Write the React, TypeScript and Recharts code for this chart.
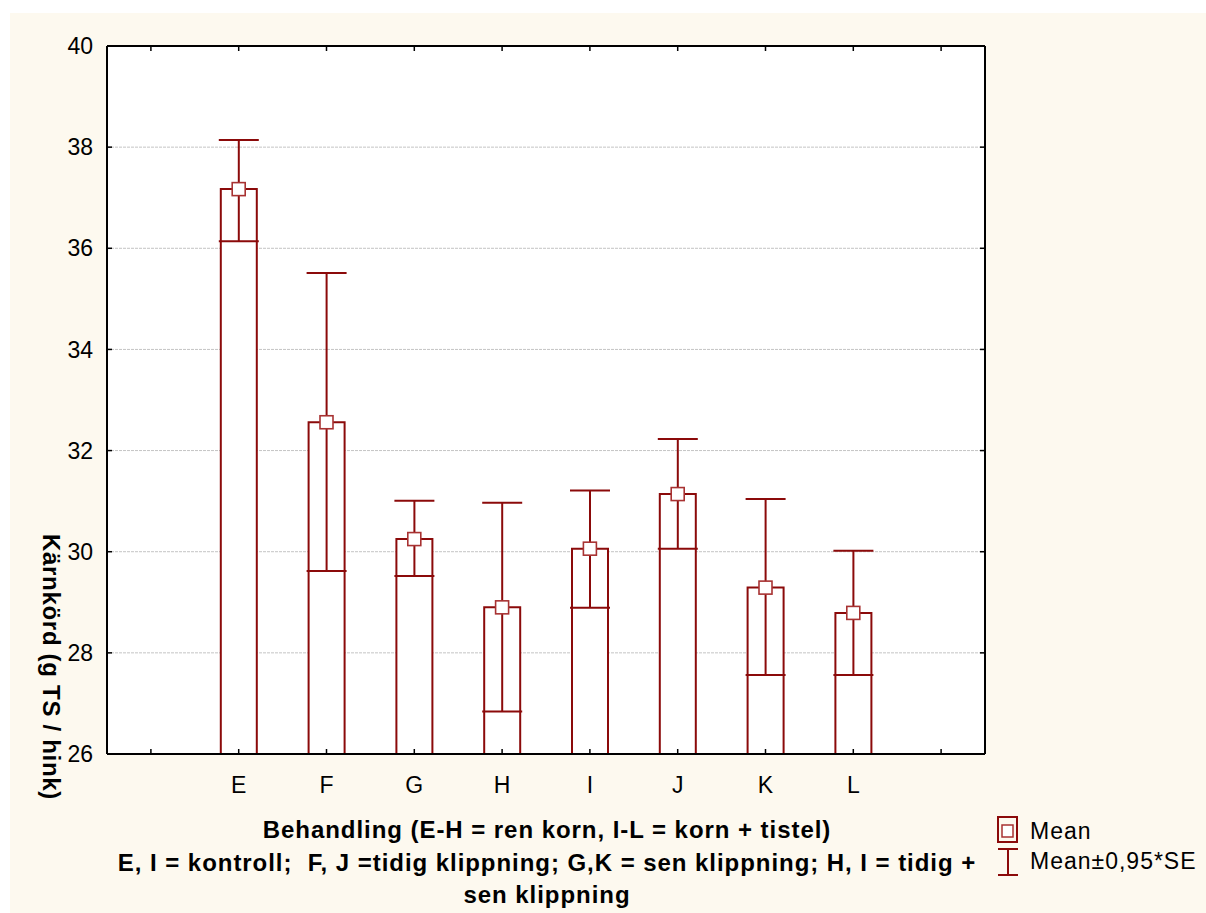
import React from 'react';
import { ComposedChart, Bar, Line, ErrorBar, XAxis, YAxis, CartesianGrid } from 'recharts';

const categories = ['', 'E', 'F', 'G', 'H', 'I', 'J', 'K', 'L', ''];
const means = [null, 37.17, 32.56, 30.25, 28.9, 30.06, 31.14, 29.29, 28.79, null];
const lowerCI = [null, 36.14, 29.62, 29.52, 26.84, 28.89, 30.06, 27.56, 27.56, null];
const upperCI = [null, 38.14, 35.51, 31.01, 30.97, 31.21, 32.23, 31.04, 30.02, null];
const yTicks = [26, 28, 30, 32, 34, 36, 38, 40];

const xTitleLines = [
  'Behandling (E-H = ren korn, I-L = korn + tistel)',
  'E, I = kontroll;  F, J =tidig klippning; G,K = sen klippning; H, I = tidig +',
  'sen klippning',
];
const yTitle = 'Kärnkörd (g TS / hink)';
const legendLabels = ['Mean', 'Mean±0,95*SE'];

const RED = '#8b0a0a';
const FONT = '"Liberation Sans", Arial, sans-serif';

const data = categories.map((cat, i) => {
  const m = means[i];
  const lo = lowerCI[i];
  const hi = upperCI[i];
  return {
    cat,
    mean: m,
    err: m == null || lo == null || hi == null ? [0, 0] : [m - lo, hi - m],
  };
});

const renderSquare = (props: any) => {
  const { cx, cy, index } = props;
  if (cx == null || cy == null || props.value == null) return <g key={`sq-${index}`} />;
  return (
    <rect
      key={`sq-${index}`}
      x={cx - 6.5}
      y={cy - 6.5}
      width={13}
      height={13}
      fill="#ffffff"
      stroke="#a83232"
      strokeWidth={1.6}
    />
  );
};

const emptyTick = () => <g />;

const catTick = (props: any) => {
  const { x, y, payload } = props;
  const v = payload && payload.value;
  if (!v) return <g />;
  return (
    <text x={x} y={y} dy="0.71em" textAnchor="middle" fontSize={23} fill="#000" fontFamily={FONT}>
      {v}
    </text>
  );
};

export default function App() {
  return (
    <div
      style={{
        position: 'absolute',
        left: 10,
        top: 13,
        width: 1196,
        height: 900,
        background: '#fdf9ef',
        fontFamily: FONT,
      }}
    >
      <div style={{ position: 'absolute', left: 97, top: 33, width: 878, height: 708, background: '#ffffff' }} />
      <ComposedChart
        width={1196}
        height={900}
        data={data}
        margin={{ top: 32, right: 220, bottom: 119, left: 37 }}
        style={{ fontFamily: FONT, position: 'absolute', left: 0, top: 0 }}
      >
        <CartesianGrid vertical={false} stroke="#c4c4c4" strokeDasharray="3 1" />
        <XAxis
          dataKey="cat"
          height={40}
          interval={0}
          tickSize={-5}
          tickMargin={28}
          axisLine={{ stroke: '#000', strokeWidth: 2 }}
          tickLine={{ stroke: '#000', strokeWidth: 1.5 }}
          tick={catTick}
        />
        <XAxis
          xAxisId="top"
          dataKey="cat"
          orientation="top"
          height={1}
          interval={0}
          tickSize={-5}
          tick={emptyTick}
          axisLine={{ stroke: '#000', strokeWidth: 2 }}
          tickLine={{ stroke: '#000', strokeWidth: 1.5 }}
        />
        <YAxis
          domain={[26, 40]}
          ticks={yTicks}
          width={60}
          interval={0}
          tickSize={-5}
          tickMargin={19}
          axisLine={{ stroke: '#000', strokeWidth: 2 }}
          tickLine={{ stroke: '#000', strokeWidth: 1.5 }}
          tick={{ fill: '#000', fontSize: 23 }}
          allowDataOverflow
        />
        <YAxis
          yAxisId="right"
          orientation="right"
          domain={[26, 40]}
          ticks={yTicks}
          width={1}
          interval={0}
          tickSize={-5}
          tick={emptyTick}
          axisLine={{ stroke: '#000', strokeWidth: 2 }}
          tickLine={{ stroke: '#000', strokeWidth: 1.5 }}
          allowDataOverflow
        />
        <Bar dataKey="mean" barSize={36} fill="#ffffff" stroke={RED} strokeWidth={2} isAnimationActive={false}>
          <ErrorBar dataKey="err" width={20} stroke={RED} strokeWidth={2} direction="y" />
        </Bar>
        <Line
          dataKey="mean"
          stroke="none"
          dot={renderSquare}
          activeDot={false}
          isAnimationActive={false}
        />
      </ComposedChart>

      {/* Y axis title */}
      <div
        style={{
          position: 'absolute',
          left: 41,
          top: 654,
          transform: 'translate(-50%, -50%) rotate(90deg)',
          whiteSpace: 'nowrap',
          fontWeight: 'bold',
          fontSize: 24,
          letterSpacing: '0.7px',
          lineHeight: '28px',
          color: '#000',
        }}
      >
        {yTitle}
      </div>

      {/* X axis title */}
      <div
        style={{
          position: 'absolute',
          left: 37,
          width: 1000,
          top: 801,
          textAlign: 'center',
          fontWeight: 'bold',
          fontSize: 24,
          letterSpacing: '0.95px',
          lineHeight: '32.5px',
          color: '#000',
          whiteSpace: 'pre',
        }}
      >
        {xTitleLines.map((l, i) => (
          <div key={i}>{l}</div>
        ))}
      </div>

      {/* Legend */}
      <svg
        width={1196}
        height={900}
        style={{ position: 'absolute', left: 0, top: 0, pointerEvents: 'none' }}
      >
        <rect x={988} y={804} width={19} height={25} fill="none" stroke={RED} strokeWidth={2} />
        <rect x={992} y={812} width={11} height={12} fill="#fff" stroke="#a83232" strokeWidth={1.5} />
        <text x={1020} y={826} fontSize={23} letterSpacing={1} fill="#000" fontFamily={FONT}>
          {legendLabels[0]}
        </text>
        <line x1={998} y1={836} x2={998} y2={862} stroke={RED} strokeWidth={2} />
        <line x1={988} y1={836} x2={1008} y2={836} stroke={RED} strokeWidth={2} />
        <line x1={988} y1={862} x2={1008} y2={862} stroke={RED} strokeWidth={2} />
        <text x={1020} y={856} fontSize={23} letterSpacing={1} fill="#000" fontFamily={FONT}>
          {legendLabels[1]}
        </text>
      </svg>
    </div>
  );
}
